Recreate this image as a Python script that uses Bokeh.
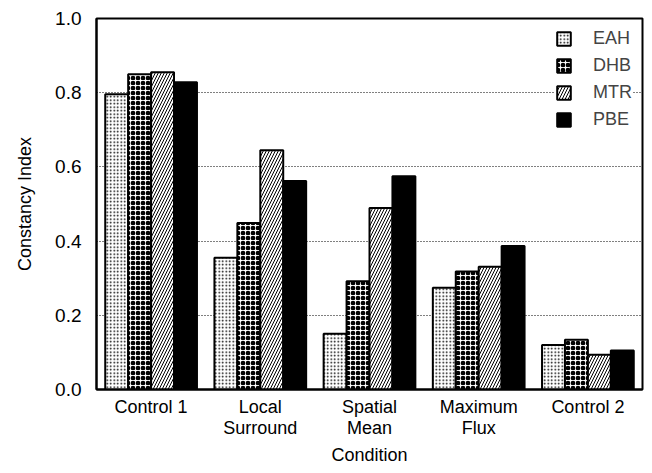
from bokeh.plotting import figure
from bokeh.models import ColumnDataSource, Legend, LegendItem, FactorRange, FixedTicker, PrintfTickFormatter
from bokeh.transform import dodge
from bokeh.embed import file_html
from bokeh.resources import INLINE

categories = ["Control 1", "Local\nSurround", "Spatial\nMean", "Maximum\nFlux", "Control 2"]
series = ["EAH", "DHB", "MTR", "PBE"]
eah = [0.796, 0.355, 0.150, 0.274, 0.120]
dhb = [0.850, 0.449, 0.292, 0.318, 0.134]
mtr = [0.855, 0.645, 0.489, 0.331, 0.094]
pbe = [0.828, 0.562, 0.575, 0.387, 0.105]
y_ticks = [0.0, 0.2, 0.4, 0.6, 0.8, 1.0]

FONT = "Liberation Sans"

src = ColumnDataSource(data=dict(cat=categories, EAH=eah, DHB=dhb, MTR=mtr, PBE=pbe))

p = figure(width=648, height=470, x_range=FactorRange(factors=categories, range_padding=0),
           y_range=(0, 1.0), output_backend="svg", toolbar_location=None,
           min_border_left=96, min_border_right=6, min_border_top=18, min_border_bottom=81)

styles = {
    "EAH": dict(fill_color="white", hatch_pattern="dot", hatch_scale=3.5, hatch_weight=1, hatch_color="black"),
    "DHB": dict(fill_color="white", hatch_pattern="ring", hatch_scale=5, hatch_weight=2.2, hatch_color="black"),
    "MTR": dict(fill_color="white", hatch_pattern="right_diagonal_line", hatch_scale=6, hatch_weight=1, hatch_color="black"),
    "PBE": dict(fill_color="black"),
}
offsets = [-0.315, -0.105, 0.105, 0.315]
items = []
for s, off in zip(series, offsets):
    r = p.vbar(x=dodge("cat", off, range=p.x_range), top=s, width=0.21, bottom=0, source=src,
               line_color="black", line_width=2, **styles[s])
    items.append(LegendItem(label=s, renderers=[r]))

legend = Legend(items=items, location="top_right", margin=10, padding=10,
                glyph_width=17, glyph_height=17, label_standoff=21, spacing=6,
                label_text_font=FONT, label_text_font_size="18px", label_height=20,
                border_line_color=None, background_fill_color="white", background_fill_alpha=1)
p.add_layout(legend)

p.xgrid.grid_line_color = None
p.ygrid.grid_line_color = "black"
p.ygrid.grid_line_dash = "1 2"
p.ygrid.grid_line_width = 1
p.ygrid.grid_line_alpha = 1
p.yaxis.ticker = FixedTicker(ticks=y_ticks)
p.yaxis.formatter = PrintfTickFormatter(format="%.1f")

for ax in (p.xaxis, p.yaxis):
    ax.major_tick_line_color = None
    ax.minor_tick_line_color = None
    ax.axis_line_color = "black"
    ax.axis_line_width = 2
    ax.major_label_text_font = FONT
    ax.major_label_text_font_size = "19px"
    ax.major_label_text_color = "black"
    ax.axis_label_text_font = FONT
    ax.axis_label_text_font_size = "18px"
    ax.axis_label_text_font_style = "normal"
    ax.axis_label_text_color = "black"
    ax.major_tick_in = 0
    ax.major_tick_out = 0

p.xaxis.major_label_text_font_size = "18px"
p.xaxis.major_label_text_line_height = 1.05
p.xaxis.axis_label = "Condition"
p.yaxis.axis_label = "Constancy Index"
p.xaxis.major_label_standoff = 7
p.xaxis.axis_label_standoff = 4
p.yaxis.major_label_standoff = 15
p.yaxis.axis_label_standoff = 17

p.outline_line_color = "black"
p.outline_line_width = 2
p.outline_line_alpha = 1
p.background_fill_color = "white"
p.border_fill_color = "white"

open("out.html", "w").write(file_html(p, INLINE))
